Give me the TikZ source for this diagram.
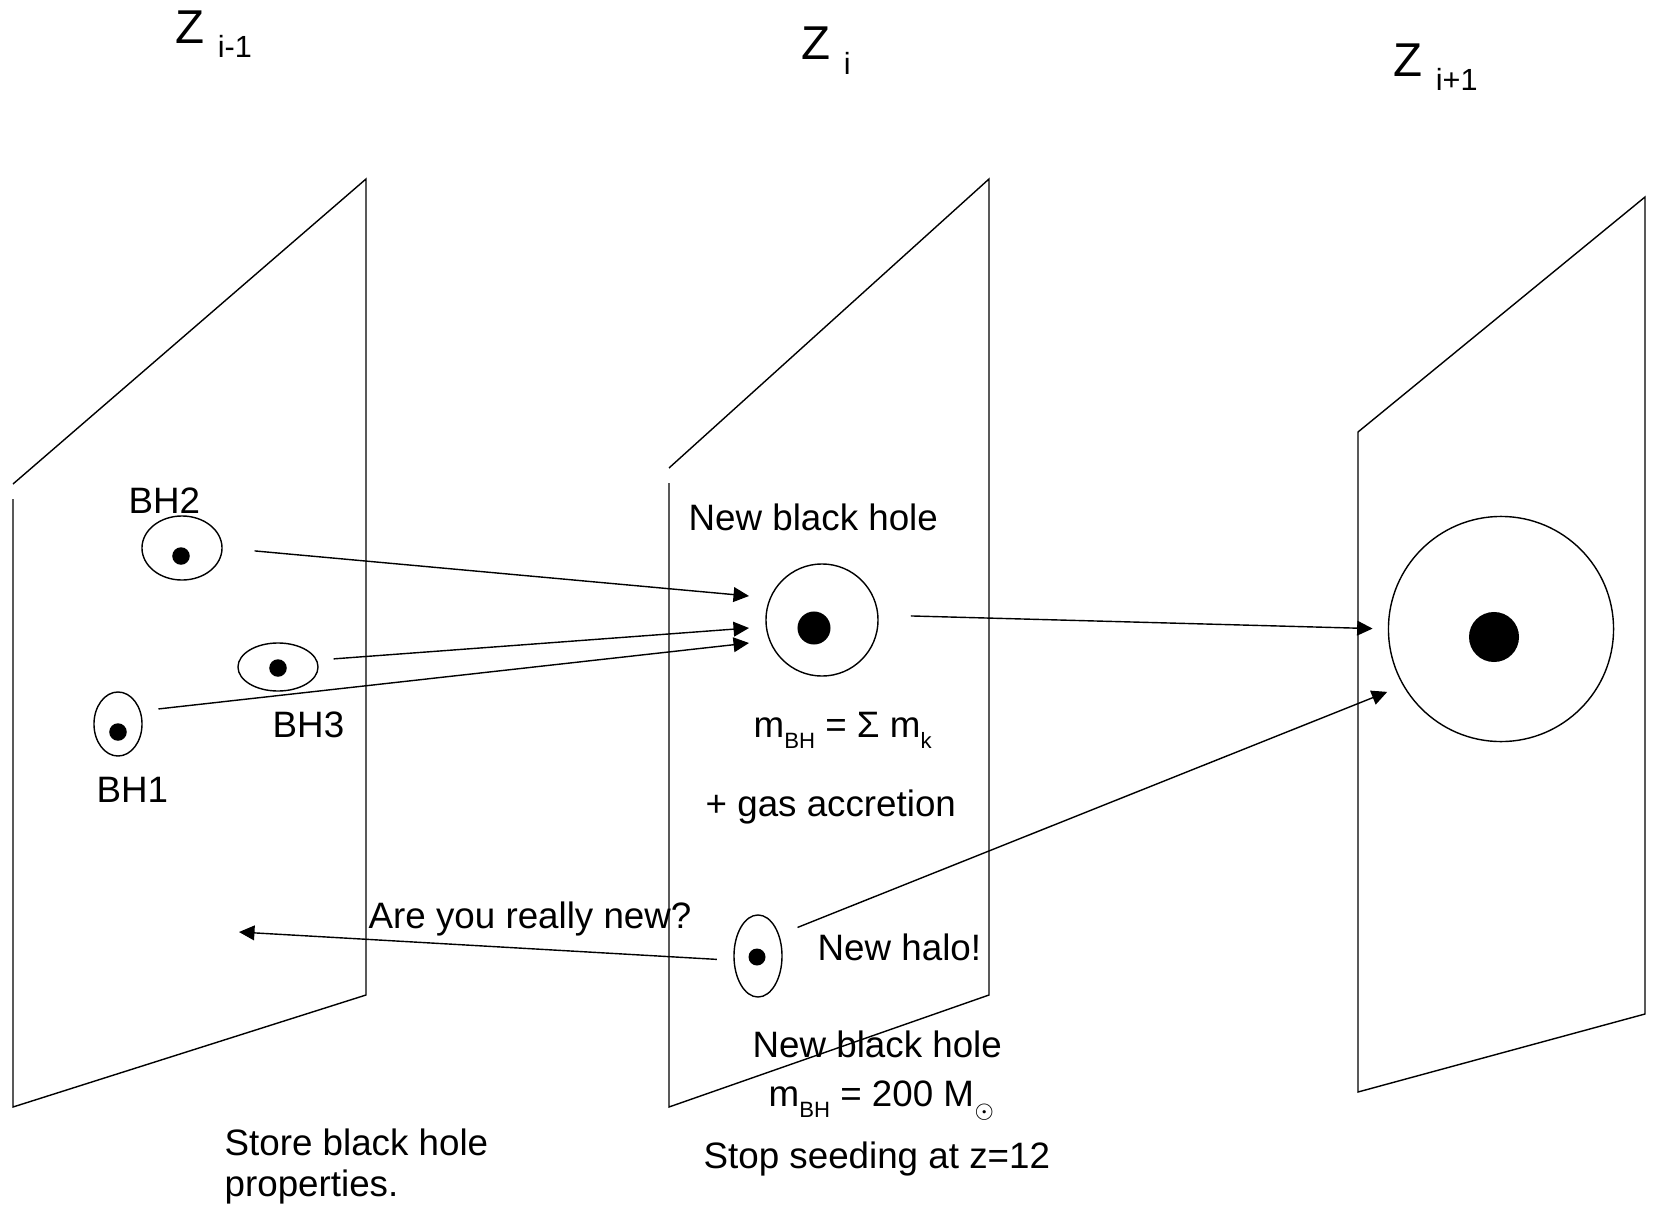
\documentclass[tikz,border=0pt]{standalone}
\usepackage{fontspec}
\setmainfont{Liberation Sans}
\usetikzlibrary{arrows.meta,shapes.geometric}

\tikzset{
  lbl/.style={inner sep=0pt, anchor=base west, font=\fontsize{10.45}{11.7}\selectfont},
  halo/.style={draw, ellipse, inner sep=0pt},
  bh/.style={circle, fill=black, inner sep=0pt},
}
\newcommand{\zlab}[1]{{\fontsize{13.5}{16}\selectfont Z }\raisebox{-4pt}{\fontsize{8.7}{10}\selectfont #1}}
\newcommand{\lowsub}[1]{\raisebox{-3.2pt}{\fontsize{6.3}{7}\selectfont #1}}

\begin{document}
\begin{tikzpicture}[x=0.01cm,y=-0.01cm,>={Triangle[length=4.4pt,width=4.2pt]}]
\useasboundingbox (0,0) rectangle (1654,1209);

% ============================================
% REDSHIFT LABELS
% ============================================
        \node[lbl] (zprev) at (175,43) {\zlab{i-1}};
        \node[lbl] (zcur)  at (801,60) {\zlab{i}};
        \node[lbl] (znext) at (1393,76) {\zlab{i+1}};

% ============================================
% LEFT PANEL – z_{i-1}
% ============================================
        % Coordinates
        \coordinate (P1a) at (13,499);
        \coordinate (P1b) at (13,1107);
        \coordinate (P1c) at (366,995);
        \coordinate (P1d) at (366,179);
        \coordinate (P1e) at (13,484);
        \draw (P1a) -- (P1b) -- (P1c) -- (P1d) -- (P1e);
        % Halos with black holes
        \node[halo, minimum width=0.8cm, minimum height=0.64cm] (bh2) at (182,548) {};
        \node[bh, minimum size=0.175cm] (bh2c) at (181,556) {};
        \node[halo, minimum width=0.8cm, minimum height=0.48cm] (bh3) at (278,667) {};
        \node[bh, minimum size=0.175cm] (bh3c) at (278,668) {};
        \node[halo, minimum width=0.48cm, minimum height=0.64cm] (bh1) at (118,724) {};
        \node[bh, minimum size=0.175cm] (bh1c) at (118,732) {};
        % Labels
        \node[lbl] (lbh2) at (128,513) {BH2};
        \node[lbl] (lbh3) at (272,737) {BH3};
        \node[lbl] (lbh1) at (96,802) {BH1};
        \node[lbl, anchor=north west, align=left] (store) at (224,1128) {Store black hole\\properties.};

% ============================================
% MIDDLE PANEL – z_i
% ============================================
        % Coordinates
        \coordinate (P2a) at (669,483);
        \coordinate (P2b) at (669,1107);
        \coordinate (P2c) at (989,995);
        \coordinate (P2d) at (989,179);
        \coordinate (P2e) at (669,468);
        \draw (P2a) -- (P2b) -- (P2c) -- (P2d) -- (P2e);
        % Merged black hole
        \node[draw, circle, inner sep=0pt, minimum size=1.12cm] (merge) at (822,620) {};
        \node[bh, minimum size=0.33cm] (mergec) at (814,628) {};
        % New halo
        \node[halo, minimum width=0.48cm, minimum height=0.82cm] (newhalo) at (758,956) {};
        \node[bh, minimum size=0.17cm] (newhaloc) at (757,957) {};
        % Labels
        \node[lbl] (newbh) at (688,530) {New black hole};
        \node[lbl] (msum) at (753,737) {m\lowsub{BH} = Σ m\lowsub{k}};
        \node[lbl] (gas) at (705,816) {+ gas accretion};
        \node[lbl] (really) at (368,928) {Are you really new?};
        \node[lbl] (newh) at (817,960) {New halo!};
        \node[lbl] (seed) at (752,1057) {New black hole};
        \node[lbl] (mseed) at (768,1106) {m\lowsub{BH} = 200 M\lowsub{$\odot$}};
        \node[lbl] (stop) at (703,1168) {Stop seeding at z=12};

% ============================================
% RIGHT PANEL – z_{i+1}
% ============================================
        \coordinate (P3a) at (1358,432);
        \coordinate (P3b) at (1358,1092);
        \coordinate (P3c) at (1645,1014);
        \coordinate (P3d) at (1645,197);
        \draw (P3a) -- (P3b) -- (P3c) -- (P3d) -- cycle;
        \node[draw, circle, inner sep=0pt, minimum size=2.25cm] (big) at (1501,629) {};
        \node[bh, minimum size=0.5cm] (bigc) at (1494,637) {};

% ============================================
% Arrows
% ============================================
        \coordinate (in2) at (749,596);
        \coordinate (in3) at (749,628);
        \coordinate (in1) at (749,643);
        \coordinate (back) at (239,932);
        \draw[->, shorten <=9.1pt] (bh2.east) -- (in2);
        \draw[->, shorten <=4.7pt] (bh3.10) -- (in3);
        \draw[->, shorten <=5.1pt] (bh1.30) -- (in1);
        \draw[->, shorten <=9.2pt, shorten >=4.3pt] (merge.5) -- (big.west);
        \draw[->, shorten <=5.6pt, shorten >=4.8pt] (newhalo.45) -- (big.210);
        \draw[->, shorten <=4.7pt] (newhalo.190) -- (back);
\end{tikzpicture}
\end{document}
